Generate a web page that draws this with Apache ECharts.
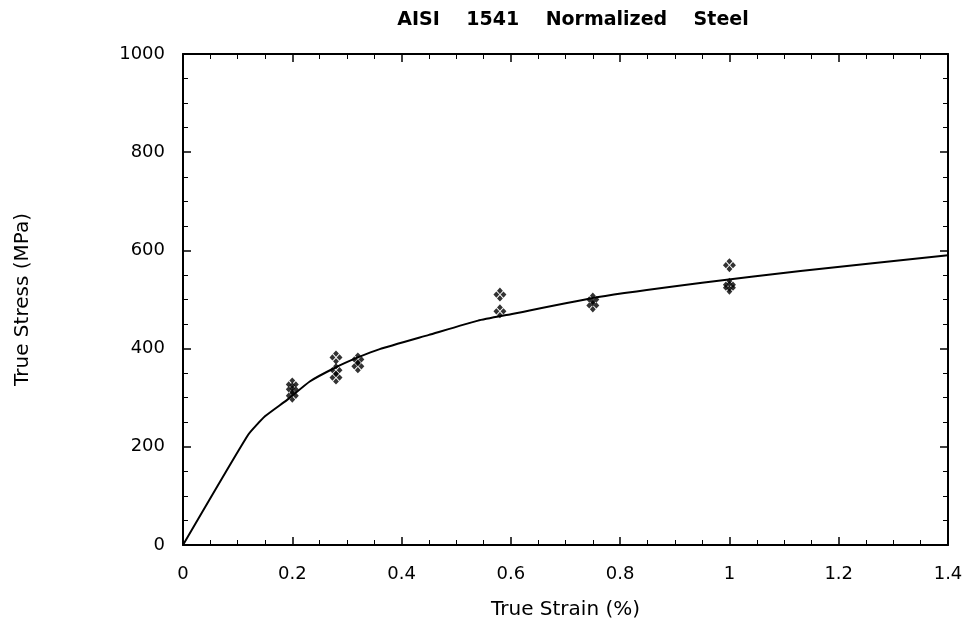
<!DOCTYPE html>
<html>
<head>
<meta charset="utf-8">
<script src="https://cdn.jsdelivr.net/npm/echarts@6/dist/echarts.min.js"></script>
<style>html,body{margin:0;padding:0;background:#fff}#c{width:972px;height:636px}</style>
</head>
<body>
<div id="c"></div>
<script>
// Fitted curve
var curveStrain = [0, 0.119, 0.15, 0.19, 0.232, 0.28, 0.32, 0.36, 0.45, 0.54, 0.6, 0.76, 0.95, 1.13, 1.4];
var curveStress = [0, 224, 262, 295, 333, 362, 382, 399, 428, 457, 470, 505, 534, 558, 590];
// Test data points
var dataStrain = [0.2, 0.2, 0.2, 0.28, 0.28, 0.28, 0.32, 0.32, 0.58, 0.58, 0.75, 0.75, 1.0, 1.0, 1.0];
var dataStress = [327, 317, 304, 382, 356, 341, 378, 364, 510, 476, 500, 488, 570, 530, 524];

var titleText = 'AISI    1541    Normalized    Steel';
var xName = 'True Strain (%)';
var yName = 'True Stress (MPa)';

var curve = curveStrain.map(function (x, i) { return [x, curveStress[i]]; });
var pts = dataStrain.map(function (x, i) { return [x, dataStress[i]]; });

var font = '"DejaVu Sans", "Liberation Sans", Arial, sans-serif';
var sym = 'path://M0,-1 L0.45,-0.55 L0,-0.1 L-0.45,-0.55 Z M0.55,-0.45 L1,0 L0.55,0.45 L0.1,0 Z M0,0.1 L0.45,0.55 L0,1 L-0.45,0.55 Z M-0.55,-0.45 L-0.1,0 L-0.55,0.45 L-1,0 Z';

var axisCommon = {
  axisLine: { show: true, onZero: false, lineStyle: { color: '#000', width: 2 } },
  axisTick: { show: true, inside: true, length: 8, lineStyle: { color: '#000', width: 1.5 } },
  minorTick: { show: true, splitNumber: 4, length: 5, lineStyle: { color: '#000', width: 1 } },
  splitLine: { show: false }
};

var chart = echarts.init(document.getElementById('c'));
chart.setOption({
  animation: false,
  backgroundColor: '#fff',
  title: {
    text: titleText, left: 568, top: 6, textAlign: 'center',
    textStyle: { fontFamily: font, fontSize: 19, fontWeight: 'bold', color: '#000' }
  },
  grid: { left: 183, right: 24, top: 54, bottom: 91 },
  xAxis: [
    Object.assign({
      type: 'value', min: 0, max: 1.4, interval: 0.2, position: 'bottom',
      name: xName, nameLocation: 'middle', nameGap: 55,
      nameTextStyle: { fontFamily: font, fontSize: 20, color: '#000' },
      axisLabel: { fontFamily: font, fontSize: 18, color: '#000', margin: 20,
        formatter: function (v) { return String(Math.round(v * 10) / 10); } }
    }, axisCommon),
    Object.assign({
      type: 'value', min: 0, max: 1.4, interval: 0.2, position: 'top',
      axisLabel: { show: false }
    }, axisCommon)
  ],
  yAxis: [
    Object.assign({
      type: 'value', min: 0, max: 1000, interval: 200, position: 'left',
      name: yName, nameLocation: 'middle', nameGap: 150, nameRotate: 90,
      nameTextStyle: { fontFamily: font, fontSize: 20, color: '#000' },
      axisLabel: { fontFamily: font, fontSize: 18, color: '#000', margin: 18,
        formatter: function (v) { return String(v); } }
    }, axisCommon),
    Object.assign({
      type: 'value', min: 0, max: 1000, interval: 200, position: 'right',
      axisLabel: { show: false }
    }, axisCommon)
  ],
  series: [
    {
      type: 'line', data: curve, showSymbol: false, symbol: 'none', smooth: 0.15,
      lineStyle: { color: '#000', width: 2 }, xAxisIndex: 0, yAxisIndex: 0, z: 2
    },
    {
      type: 'scatter', data: pts, symbol: sym, symbolSize: [13, 14],
      itemStyle: { color: '#000' }, xAxisIndex: 0, yAxisIndex: 0, z: 3
    }
  ]
});
</script>
</body>
</html>
